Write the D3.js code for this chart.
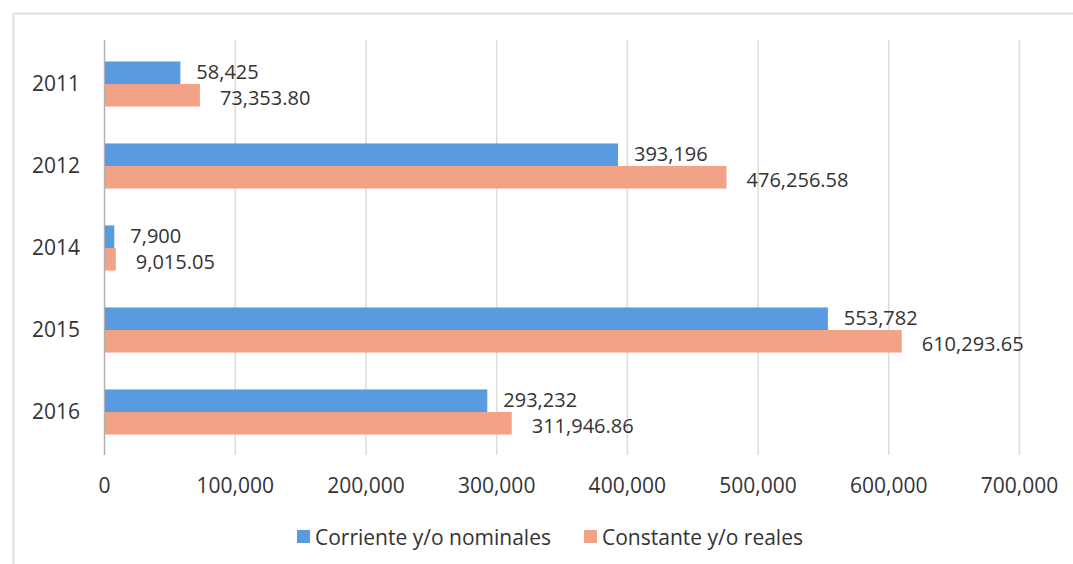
<!DOCTYPE html>
<html>
<head>
<meta charset="utf-8">
<script src="https://cdn.jsdelivr.net/npm/d3@7"></script>
<style>
  html, body { margin: 0; padding: 0; background: #fff; }
  svg { display: block; font-family: "Open Sans", "Noto Sans", sans-serif; }
</style>
</head>
<body>
<svg id="chart" width="1073" height="564"></svg>
<script>
const categories = ["2011", "2012", "2014", "2015", "2016"];
const seriesNames = ["Corriente y/o nominales", "Constante y/o reales"];
const corriente = [58425, 393196, 7900, 553782, 293232];
const constante = [73353.80, 476256.58, 9015.05, 610293.65, 311946.86];
const corrienteLabels = ["58,425", "393,196", "7,900", "553,782", "293,232"];
const constanteLabels = ["73,353.80", "476,256.58", "9,015.05", "610,293.65", "311,946.86"];
const xTicks = [0, 100000, 200000, 300000, 400000, 500000, 600000, 700000];
const colors = ["#5A9AE0", "#F2A286"];

const svg = d3.select("#chart");
const textColor = "#333";
const labelSize = 20;
const axisSize = 21;

// outer frame (top and left edges visible)
svg.append("line").attr("x1", 13).attr("x2", 1073).attr("y1", 13.5).attr("y2", 13.5)
  .attr("stroke", "#e0e0e0").attr("stroke-width", 2);
svg.append("line").attr("x1", 13.5).attr("x2", 13.5).attr("y1", 13).attr("y2", 564)
  .attr("stroke", "#e0e0e0").attr("stroke-width", 2);

const x = d3.scaleLinear().domain([0, 700000]).range([104, 1019]);
const y = d3.scaleBand().domain(categories).range([43, 453]).paddingInner(0.45).paddingOuter(0.225);
const ySub = d3.scaleBand().domain(seriesNames).range([0, y.bandwidth()]);

// gridlines
svg.append("g")
  .selectAll("line").data(xTicks).join("line")
  .attr("x1", d => x(d) + 0.5).attr("x2", d => x(d) + 0.5)
  .attr("y1", 40).attr("y2", 455)
  .attr("stroke", d => d === 0 ? "#b0b0b0" : "#dcdcdc").attr("stroke-width", 1.5);

// x axis labels
const xAxis = d3.axisBottom(x).tickValues(xTicks).tickSize(0).tickPadding(0)
  .tickFormat(d3.format(","));
const gx = svg.append("g").attr("transform", "translate(0,478)").call(xAxis);
gx.select(".domain").remove();
gx.selectAll("text").attr("font-size", axisSize).attr("fill", textColor)
  .attr("font-family", "'Open Sans', sans-serif");

// y axis labels
const yAxis = d3.axisLeft(y).tickSize(0).tickPadding(24);
const gy = svg.append("g").attr("transform", "translate(104,0)").call(yAxis);
gy.select(".domain").remove();
gy.selectAll("text").attr("font-size", axisSize).attr("fill", textColor)
  .attr("font-family", "'Open Sans', sans-serif");

const series = [
  { name: seriesNames[0], values: corriente, labels: corrienteLabels, color: colors[0], off: 16, dy: -1 },
  { name: seriesNames[1], values: constante, labels: constanteLabels, color: colors[1], off: 20, dy: 2 }
];

series.forEach(s => {
  const g = svg.append("g");
  g.selectAll("rect").data(categories).join("rect")
    .attr("x", x(0) + 1)
    .attr("y", c => y(c) + ySub(s.name))
    .attr("width", (c, i) => x(s.values[i]) - x(0) - 1)
    .attr("height", ySub.bandwidth())
    .attr("fill", s.color);
  g.selectAll("text").data(categories).join("text")
    .attr("x", (c, i) => x(s.values[i]) + s.off)
    .attr("y", c => y(c) + ySub(s.name) + ySub.bandwidth() / 2 + s.dy)
    .attr("dominant-baseline", "central")
    .attr("font-size", labelSize).attr("fill", textColor)
    .text((c, i) => s.labels[i]);
});

// legend
const legendItems = [
  { name: seriesNames[0], color: colors[0], x: 297 },
  { name: seriesNames[1], color: colors[1], x: 584 }
];
const lg = svg.append("g");
legendItems.forEach(it => {
  lg.append("rect").attr("x", it.x).attr("y", 530).attr("width", 13).attr("height", 13).attr("fill", it.color);
  lg.append("text").attr("x", it.x + 18).attr("y", 537).attr("dominant-baseline", "central")
    .attr("font-size", axisSize).attr("fill", textColor).text(it.name);
});
</script>
</body>
</html>
